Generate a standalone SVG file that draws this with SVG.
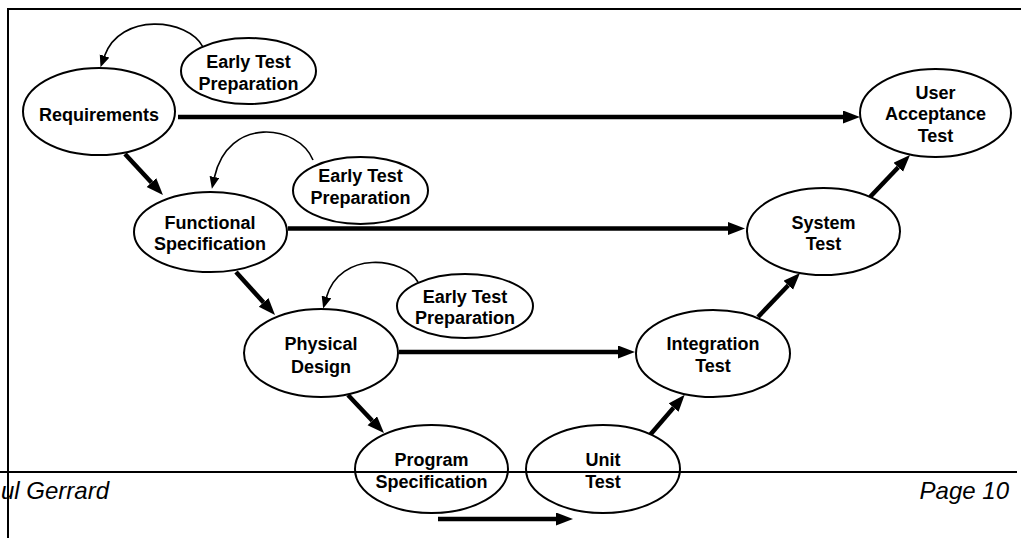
<svg xmlns="http://www.w3.org/2000/svg" width="1021" height="538" viewBox="0 0 1021 538">
<style>
.node ellipse{fill:#fff;stroke:#000;stroke-width:2}
.node text{font-family:"Liberation Sans",Arial,sans-serif;font-weight:bold;font-size:18px;text-anchor:middle;fill:#000}
.thick{stroke:#000;stroke-width:4.5;fill:none;marker-end:url(#big)}
.curve{stroke:#000;stroke-width:1.6;fill:none;marker-end:url(#small)}
.frame{stroke:#000;stroke-width:2;fill:none}
.foot{font-family:"Liberation Sans",Arial,sans-serif;font-style:italic;font-size:24px;fill:#000}
</style>
<defs>
<marker id="big" markerUnits="userSpaceOnUse" markerWidth="18" markerHeight="14" refX="0" refY="6.5" orient="auto">
<path d="M0,0 L17,6.5 L0,13 z" fill="#000"/>
</marker>
<marker id="small" markerUnits="userSpaceOnUse" markerWidth="13" markerHeight="11" refX="0" refY="5" orient="auto">
<path d="M0,0 L12,5 L0,10 z" fill="#000"/>
</marker>
</defs>
<rect width="1021" height="538" fill="#fff"/>
<g id="frame">
<path class="frame" d="M8,538 L8,9 L1021,9"/>
</g>
<g id="connectors">
<path class="curve" d="M203,47 C188,18 120,12 104.5,56"/>
<path class="curve" d="M313,160 C298,124 228,116 214.5,177"/>
<path class="curve" d="M418,282 C404,257 340,250 326.5,297"/>
<path class="thick" d="M178,117 L843,117"/>
<path class="thick" d="M288,228.5 L728,228.5"/>
<path class="thick" d="M399,352 L618,352"/>
<path class="thick" d="M438,519 L556,519"/>
<path class="thick" d="M125,154 L151.4,182.5"/>
<path class="thick" d="M236,272 L263.6,302.4"/>
<path class="thick" d="M348,395 L372.3,420.7"/>
<path class="thick" d="M650,435 L673.6,407.6"/>
<path class="thick" d="M758,317 L788.3,285.3"/>
<path class="thick" d="M870,197 L898.3,167.3"/>
</g>
<g id="requirements" class="node">
<ellipse cx="99" cy="111.5" rx="76" ry="43.5"/>
<text x="99" y="120.5">Requirements</text>
</g>
<g id="etp1" class="node">
<ellipse cx="248.5" cy="71" rx="67.5" ry="33"/>
<text x="248.5" y="67.5">Early Test</text>
<text x="248.5" y="89.5">Preparation</text>
</g>
<g id="functional" class="node">
<ellipse cx="210.5" cy="232" rx="76.5" ry="40"/>
<text x="210" y="228.5">Functional</text>
<text x="210" y="249.5">Specification</text>
</g>
<g id="etp2" class="node">
<ellipse cx="360.5" cy="190.5" rx="67.5" ry="33.5"/>
<text x="360.5" y="181.5">Early Test</text>
<text x="360.5" y="203.5">Preparation</text>
</g>
<g id="physical" class="node">
<ellipse cx="321" cy="353" rx="77" ry="44"/>
<text x="321" y="349.5">Physical</text>
<text x="321" y="372.5">Design</text>
</g>
<g id="etp3" class="node">
<ellipse cx="465" cy="306" rx="68" ry="32"/>
<text x="465" y="302.5">Early Test</text>
<text x="465" y="323.5">Preparation</text>
</g>
<g id="program" class="node">
<ellipse cx="431.5" cy="469" rx="76.5" ry="44"/>
<text x="431.5" y="465.5">Program</text>
<text x="431.5" y="487.5">Specification</text>
</g>
<g id="unit" class="node">
<ellipse cx="603" cy="469" rx="77" ry="44"/>
<text x="603" y="465.5">Unit</text>
<text x="603" y="487.5">Test</text>
</g>
<g id="integration" class="node">
<ellipse cx="713" cy="353.5" rx="77" ry="43.5"/>
<text x="713" y="349.5">Integration</text>
<text x="713" y="371.5">Test</text>
</g>
<g id="system" class="node">
<ellipse cx="823.5" cy="231.5" rx="76.5" ry="43.5"/>
<text x="823.5" y="228.5">System</text>
<text x="823.5" y="249.5">Test</text>
</g>
<g id="uat" class="node">
<ellipse cx="935.5" cy="113" rx="75.5" ry="44"/>
<text x="935.5" y="98.5">User</text>
<text x="935.5" y="120">Acceptance</text>
<text x="935.5" y="142">Test</text>
</g>
<g id="footer">
<path class="frame" d="M0,472 L1017,472"/>
<text class="foot" x="1" y="499">ul Gerrard</text>
<text class="foot" x="1009" y="499" text-anchor="end">Page 10</text>
</g>
</svg>
